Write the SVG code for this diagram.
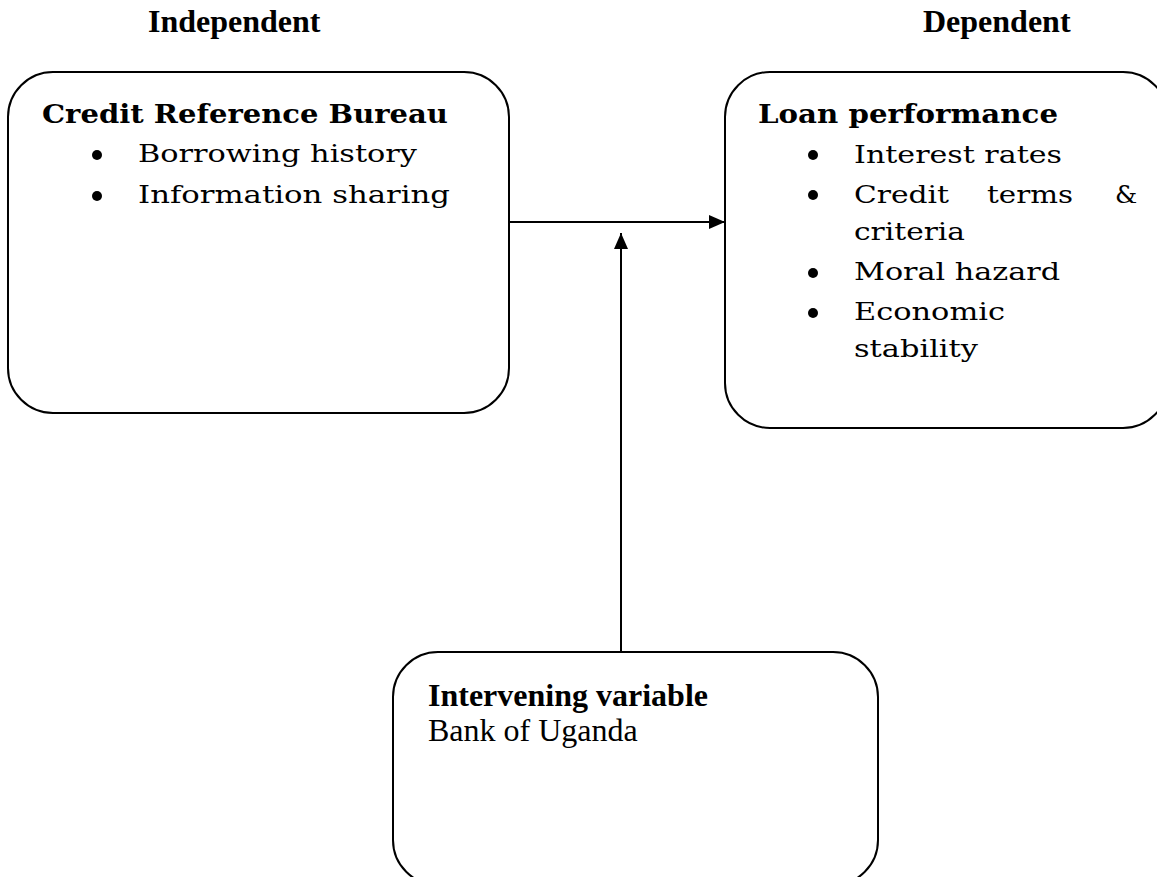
<svg xmlns="http://www.w3.org/2000/svg" width="1157" height="877" viewBox="0 0 1157 877">
<style>
.box{fill:#fff;stroke:#000;stroke-width:2}
.hdr{font-family:"Liberation Serif","Times New Roman",serif;font-weight:bold;font-size:32px;fill:#000}
.tr{font-family:"Liberation Serif","Times New Roman",serif;font-size:32px;fill:#000}
.bt{font-family:"DejaVu Serif","Liberation Serif",serif;font-weight:bold;font-size:26px;fill:#000}
.bk{font-family:"DejaVu Serif","Liberation Serif",serif;font-size:25px;fill:#000}
.dot{fill:#000}
.conn{stroke:#000;stroke-width:2;fill:none}
</style>
<defs>
<marker id="ah" viewBox="0 0 16 14" refX="16" refY="7" markerWidth="16" markerHeight="14" markerUnits="userSpaceOnUse" orient="auto">
<path d="M0,0 L16,7 L0,14 Z" fill="#000"/>
</marker>
</defs>
<rect width="1157" height="877" fill="#fff"/>
<g id="label-independent"><text class="hdr" x="148" y="32">Independent</text></g>
<g id="label-dependent"><text class="hdr" x="923" y="32">Dependent</text></g>
<g id="connectors">
<line class="conn" x1="509" y1="222" x2="725" y2="222" marker-end="url(#ah)"/>
<line class="conn" x1="621" y1="652" x2="621" y2="233" marker-end="url(#ah)"/>
</g>
<g id="node-crb">
<rect class="box" x="8" y="72" width="501" height="341" rx="45" ry="45"/>
<text class="bt" x="42" y="123" textLength="406" lengthAdjust="spacingAndGlyphs">Credit Reference Bureau</text>
<circle class="dot" cx="97" cy="155" r="5"/>
<text class="bk" x="138" y="162" textLength="279" lengthAdjust="spacingAndGlyphs">Borrowing history</text>
<circle class="dot" cx="97" cy="196" r="5"/>
<text class="bk" x="138" y="203" textLength="312" lengthAdjust="spacingAndGlyphs">Information sharing</text>
</g>
<g id="node-loan">
<rect class="box" x="725" y="72" width="443" height="356" rx="45" ry="45"/>
<text class="bt" x="758" y="123" textLength="300" lengthAdjust="spacingAndGlyphs">Loan performance</text>
<circle class="dot" cx="813" cy="155" r="5"/>
<text class="bk" x="854" y="163" textLength="208" lengthAdjust="spacingAndGlyphs">Interest rates</text>
<circle class="dot" cx="813" cy="195" r="5"/>
<text class="bk" x="854" y="203" textLength="95" lengthAdjust="spacingAndGlyphs">Credit</text>
<text class="bk" x="987" y="203" textLength="86" lengthAdjust="spacingAndGlyphs">terms</text>
<text class="bk" x="1115" y="203">&amp;</text>
<text class="bk" x="854" y="240" textLength="111" lengthAdjust="spacingAndGlyphs">criteria</text>
<circle class="dot" cx="813" cy="273" r="5"/>
<text class="bk" x="854" y="280" textLength="206" lengthAdjust="spacingAndGlyphs">Moral hazard</text>
<circle class="dot" cx="813" cy="313" r="5"/>
<text class="bk" x="854" y="320" textLength="151" lengthAdjust="spacingAndGlyphs">Economic</text>
<text class="bk" x="854" y="357" textLength="124" lengthAdjust="spacingAndGlyphs">stability</text>
</g>
<g id="node-intervening">
<rect class="box" x="393" y="652" width="485" height="233" rx="45" ry="45"/>
<text class="hdr" x="428" y="706">Intervening variable</text>
<text class="tr" x="428" y="741">Bank of Uganda</text>
</g>
</svg>
